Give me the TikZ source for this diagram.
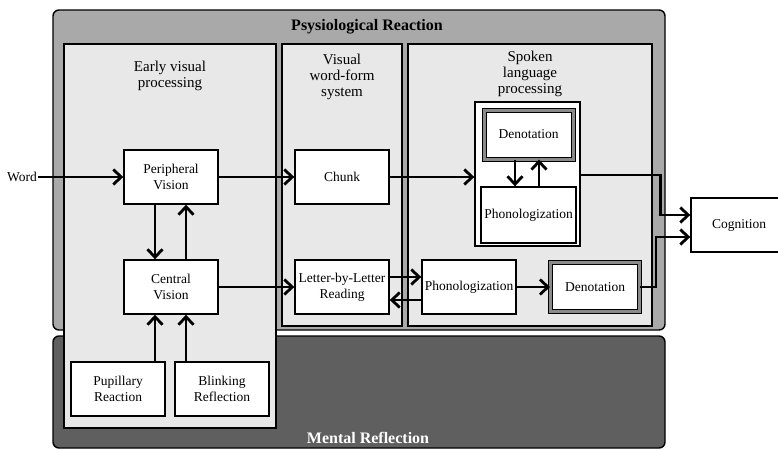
\documentclass[tikz,border=0pt]{standalone}
\usepackage{fontspec}
\setmainfont{Liberation Serif}
\usetikzlibrary{arrows.meta}

\definecolor{outergray}{HTML}{A9A9A9}
\definecolor{mentalgray}{HTML}{5F5F5F}
\definecolor{panelgray}{HTML}{E8E8E8}
\definecolor{bandgray}{HTML}{8A8A8A}

\tikzset{
  panel/.style={draw=black, line width=1.4pt, fill=panelgray},
  blk/.style={draw=black, line width=1.4pt, fill=white, minimum width=94pt, minimum height=54pt,
    align=center, inner sep=1pt, font=\fontsize{13.5}{16}\selectfont},
  dblk/.style={blk, double=bandgray, double distance=3pt, line width=1pt,
    minimum width=89pt, minimum height=49pt},
  arr/.style={line width=2.8pt, -{Straight Barb[length=8pt,width=15pt]}},
  ttl/.style={align=center, font=\fontsize{15}{16}\selectfont},
}

\begin{document}
\begin{tikzpicture}[x=1pt, y=-1pt]
        \useasboundingbox (0,0) rectangle (778,450);
        \fill[white] (0,0) rectangle (778,450);

        % Draw the two layers
        \draw[rounded corners=6pt, fill=outergray, line width=1.4pt] (53,10) rectangle (665,330);
        \draw[rounded corners=6pt, fill=mentalgray, line width=1.4pt] (53,336) rectangle (665,448);
        \node (physio) at (367,27) {\fontsize{16}{18}\selectfont\textbf{Psysiological Reaction}};
        \node[text=white] (mental) at (368,438) {\fontsize{16}{18}\selectfont\textbf{Mental Reflection}};

        % Draw the panels
        \draw[panel] (64,44) rectangle (276,428);
        \draw[panel] (282,44) rectangle (402,326);
        \draw[panel] (408,44) rectangle (652,326);
        \node[ttl] (early) at (170,76) {Early visual\\processing};
        \node[ttl] (vwfs) at (342,77) {Visual\\word-form\\system};
        \node[ttl] (slp) at (530,74) {Spoken\\language\\processing};

        % Define nodes in early visual processing
        \node[blk] (periph) at (171,177) {Peripheral\\Vision};
        \node[blk] (central) at (171,287) {Central\\Vision};
        \node[blk] (pup) at (118,389) {Pupillary\\Reaction};
        \node[blk] (blink) at (222,389) {Blinking\\Reflection};

        % Define nodes in visual word-form system
        \node[blk] (chunk) at (342,177) {Chunk};
        \node[blk] (letter) at (342,287) {Letter-by-Letter\\Reading};

        % Define nodes in spoken language processing
        \node[blk, minimum width=105pt, minimum height=144pt] (spk) at (527.5,174) {};
        \node[dblk] (denT) at (528.5,134.5) {Denotation};
        \node[blk, minimum width=95pt, minimum height=56pt] (phonT) at (528.5,215) {Phonologization};
        \node[blk] (phonB) at (469,287) {Phonologization};
        \node[dblk] (denB) at (595,287) {Denotation};

        \node[blk, minimum width=96pt] (cog) at (739,225) {Cognition};
        \node[font=\fontsize{13.5}{16}\selectfont, inner sep=1pt] (word) at (22,177) {Word};

        % Draw the connections
        \draw[arr] (word.east) -- (periph.west);
        \draw[arr] (periph.east) -- (chunk.west);
        \draw[arr] (chunk.east) -- (chunk.east -| spk.west);
        \draw[arr] ([xshift=-16pt]periph.south) -- ([xshift=-16pt]central.north);
        \draw[arr] ([xshift=15pt]central.north) -- ([xshift=15pt]periph.south);
        \draw[arr] (central.east) -- (letter.west);
        \draw[arr] ([yshift=10pt]letter.east) -- ([yshift=10pt]phonB.west);
        \draw[arr] ([yshift=-13pt]phonB.west) -- ([yshift=-13pt]letter.east);
        \draw[arr] (phonB.east) -- (denB.west);
        \draw[arr] ([xshift=-13.5pt]denT.south) -- ([xshift=-13.5pt]phonT.north);
        \draw[arr] ([xshift=10.5pt]phonT.north) -- ([xshift=10.5pt]denT.south);
        \draw[arr] ([yshift=-1pt]spk.east) -- ++(80,0) |- ([yshift=10pt]cog.west);
        \draw[arr] (denB.east) -- ++(16,0) |- ([yshift=-12pt]cog.west);
        \draw[arr] ([xshift=-16pt]central.south |- pup.north) -- ([xshift=-16pt]central.south);
        \draw[arr] ([xshift=15pt]central.south |- blink.north) -- ([xshift=15pt]central.south);
\end{tikzpicture}
\end{document}
